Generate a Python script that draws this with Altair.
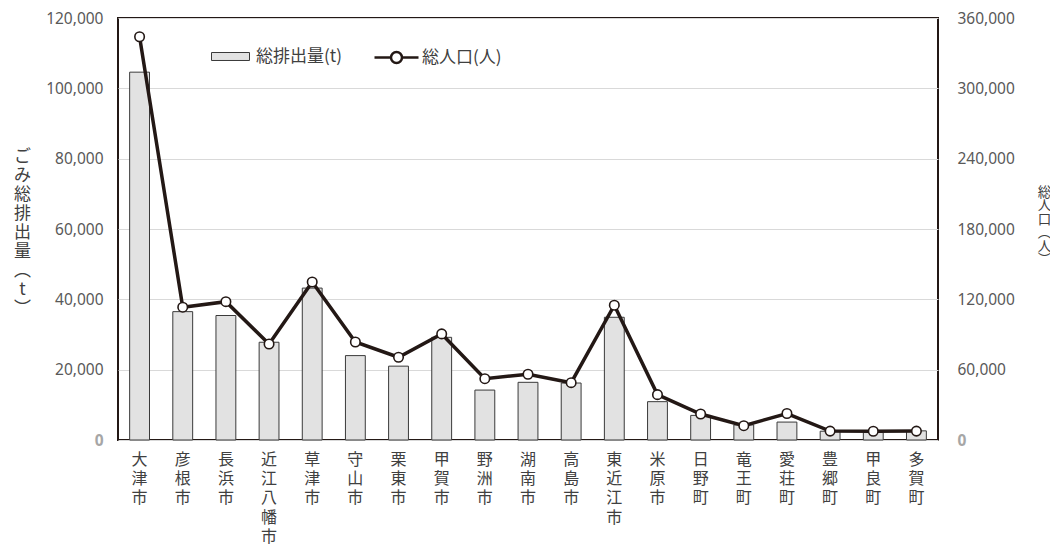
import altair as alt
import pandas as pd

cities = ["大津市", "彦根市", "長浜市", "近江八幡市", "草津市", "守山市", "栗東市",
          "甲賀市", "野洲市", "湖南市", "高島市", "東近江市", "米原市", "日野町",
          "竜王町", "愛荘町", "豊郷町", "甲良町", "多賀町"]
waste = [104600, 36500, 35400, 27800, 43200, 24000, 21000, 29200, 14200, 16400,
         16200, 34900, 10900, 7000, 4300, 5100, 2500, 2200, 2600]
population = [344000, 113300, 118000, 81900, 134800, 83600, 70600, 90500, 52300,
              56100, 48900, 115000, 38700, 22200, 12200, 22600, 7600, 7500, 7600]
bar_label = "総排出量(t)"
line_label = "総人口(人)"
left_title = list("ごみ総排出量︵t︶")
right_title = list("総人口︵人︶")
left_ticks = [0, 20000, 40000, 60000, 80000, 100000, 120000]
right_ticks = [0, 60000, 120000, 180000, 240000, 300000, 360000]

df = pd.DataFrame({"city": cities, "waste": waste, "pop": population,
                   "s1": bar_label, "s2": line_label})

CJK = "Noto Sans CJK JP"
NUM = "Noto Sans"
DARK = "#231815"
TXT = "#404040"

lab_color = {"condition": {"test": "datum.value === 0", "value": "#a6a6a6"}, "value": "#595959"}
lab_weight = {"condition": {"test": "datum.value === 0", "value": "bold"}, "value": "normal"}

x_enc = alt.X(
    "city:N", sort=cities,
    scale=alt.Scale(paddingInner=0.54, paddingOuter=0.27),
    axis=alt.Axis(title=None, labelAngle=0, labelExpr="split(datum.label, '')",
                  labelLineHeight=19.4, labelFontSize=16, labelFont=CJK,
                  labelColor=TXT, labelPadding=11, ticks=False, domain=False,
                  labelBaseline="top", labelAlign="center", labelOverlap=False),
)

bars = alt.Chart(df).mark_bar(stroke="#3a3a3a", strokeWidth=1).encode(
    x=x_enc,
    y=alt.Y("waste:Q", scale=alt.Scale(domain=[0, 120000], nice=False),
            axis=alt.Axis(title=left_title, titleAngle=0, titleX=-96, titleY=130,
                          titleAlign="center", titleBaseline="top", titleLineHeight=19,
                          titleFontSize=17, titleFontWeight="normal", titleColor=TXT,
                          titleFont=CJK, values=left_ticks, format=",d",
                          labelFont=NUM, labelFontSize=15.5, labelColor=lab_color,
                          labelFontWeight=lab_weight, labelPadding=15, ticks=False,
                          domain=False, grid=True, gridColor="#d9d9d9", gridWidth=1)),
    fill=alt.Fill("s1:N", scale=alt.Scale(domain=[bar_label], range=["#e2e2e2"]),
                  legend=alt.Legend(orient="none", legendX=93, legendY=19, title=None,
                                    symbolType="M-1,-0.21H1V0.21H-1Z", symbolSize=1444,
                                    symbolStrokeColor="#3a3a3a", symbolStrokeWidth=1,
                                    labelFont=CJK, labelFontSize=17, labelColor=TXT,
                                    labelOffset=6)),
)

line = alt.Chart(df).mark_line(
    strokeWidth=3.5,
    point=alt.OverlayMarkDef(filled=False, fill="white", size=90, strokeWidth=1.6, stroke=DARK),
).encode(
    x=x_enc,
    y=alt.Y("pop:Q", scale=alt.Scale(domain=[0, 360000], nice=False),
            axis=alt.Axis(orient="right", title=right_title, titleAngle=0, titleX=106,
                          titleY=167, titleAlign="center", titleBaseline="top",
                          titleLineHeight=13.5, titleFontSize=13.5, titleFontWeight="normal",
                          titleColor=TXT, titleFont=CJK, values=right_ticks, format=",d",
                          labelFont=NUM, labelFontSize=15.5, labelColor=lab_color,
                          labelFontWeight=lab_weight, labelPadding=19, ticks=False,
                          domain=False, grid=False)),
    stroke=alt.Stroke("s2:N", scale=alt.Scale(domain=[line_label], range=[DARK]),
                      legend=alt.Legend(orient="none", legendX=255, legendY=16, title=None,
                                        symbolType="M-1,0H-0.25M0.25,0H1M0.25,0A0.25,0.25,0,1,1,-0.25,0A0.25,0.25,0,1,1,0.25,0Z",
                                        symbolSize=1936, symbolStrokeWidth=2.5,
                                        symbolFillColor="white",
                                        labelFont=CJK, labelFontSize=17, labelColor=TXT,
                                        labelOffset=2)),
)

chart = (
    alt.layer(bars, line)
    .resolve_scale(y="independent")
    .properties(width=820, height=422,
                autosize=alt.AutoSizeParams(type="none"),
                padding={"left": 110, "top": 10, "right": 112, "bottom": 106})
    .configure(font=CJK)
    .configure_view(stroke=DARK, strokeWidth=2)
)

chart.save("out.html", embed_options={"renderer": "svg", "actions": False})
